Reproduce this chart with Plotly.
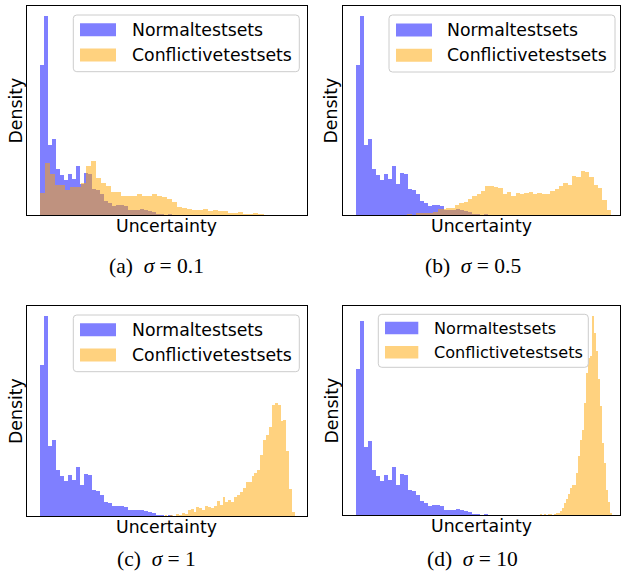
import numpy as np
import plotly.graph_objects as go

W, H = 621, 577

# ---------------- data (density, arbitrary units) ----------------
# Normal test sets: 50 equal-width bins over uncertainty span below
normal_span = (0.0, 0.8)
normal_density = [150, 199, 70, 76, 46, 40, 34.5, 41, 36, 49,
                  31, 42, 41, 26, 25, 21, 14, 12.5, 9.5, 10,
                  10, 9, 5.5, 5.5, 5.5, 6, 5, 4.3, 2.7, 1.3,
                  1.3, 0, 1.3, 0, 0, 0.3, 0, 0, 0.3, 0,
                  0, 0, 0, 0, 0, 0, 0, 0, 0, 0]

# Conflictive test sets for each sigma
conf_span_01 = (0.0, 1.016)
conf_density_01 = [21.7, 52, 41, 30, 30, 25, 28, 28, 31.7, 49,
                   54, 37, 32, 29, 23, 23, 19, 19, 19, 21,
                   19, 19, 21, 19, 17.7, 15.7, 13.3, 7.7, 6.7, 5.7,
                   5, 5, 6, 4.3, 5, 4, 4, 2.3, 2, 3,
                   1.3, 1.3, 2, 1.3, 0.3, 0, 0, 0, 0, 0]

conf_span_05 = (0.1544, 1.021)
conf_density_05 = [0, 0, 0, 1, 0.5, 1.7, 2, 2, 2.3, 3.3,
                   5.7, 6.3, 7, 6.7, 10, 11.7, 13.3, 15.7, 19, 21,
                   24.3, 29, 29, 28, 27, 21.3, 23, 19, 22, 21.3,
                   22, 23, 21.3, 22, 21.3, 21.3, 24, 26, 29, 32,
                   30, 39, 38, 44, 43, 38, 30.3, 27, 15, 5]

conf_span_1 = (0.44, 1.02)
conf_density_1 = [0, 0, 0.5, 0, 0, 1.3, 0.5, 1.3, 0.5, 2.3,
                  1.3, 3.3, 2.3, 6.3, 7.3, 4.3, 9.3, 8.3, 6.3, 10.3,
                  9.3, 8.3, 10.3, 15.3, 11.3, 19.3, 14.3, 16.3, 14.3, 19.3,
                  21.3, 24.3, 28.3, 34.3, 34.3, 40.3, 42.3, 45.3, 60.3, 75.3,
                  80.3, 88.3, 110.3, 112.3, 110.3, 94.7, 96, 64.3, 26.7, 4.3]

conf_span_10 = (0.625, 1.025)
conf_density_10 = [0, 0, 0, 0, 0, 0, 0, 0, 0, 0,
                   0, 0, 0, 0, 0.8, 0, 0.8, 0, 0.8, 0.8,
                   0, 0.8, 1.8, 2.4, 4.1, 6.9, 12.1, 16.2, 21.7, 27.5,
                   30.9, 30.9, 43, 60.1, 77.3, 87.6, 115.2, 146.1, 161.6, 163.2,
                   204.4, 187.3, 168.4, 139.2, 111.7, 73.9, 53.3, 25.8, 13.7, 2.4]

sigma_labels = ["0.1", "0.5", "1", "10"]
panel_letters = ["a", "b", "c", "d"]
legend_labels = ["Normaltestsets", "Conflictivetestsets"]

# ---------------- layout helpers ----------------
def px(x):
    return x / W

def py(y):
    return 1 - y / H

def bins(span, n):
    lo, hi = span
    w = (hi - lo) / n
    return lo + w * (np.arange(n) + 0.5), w

BLUE = "rgba(0,0,255,0.5)"
ORANGE = "rgba(255,165,0,0.5)"
FONT = "DejaVu Sans"
SERIF = "Liberation Serif"

panels = [
    dict(conf=conf_density_01, span=conf_span_01, box=(27, 6, 307, 215), xr=(-0.052, 1.068),
         leg=dict(box=(73.3, 15, 299.3, 71.7), patch=(80, 116), rows=(29.7, 55.0), tx=130, fs=17.3, ph=13),
         dens_x=16, cap=(156.5, 265.5)),
    dict(conf=conf_density_05, span=conf_span_05, box=(343, 6, 620, 215), xr=(-0.0508, 1.0572),
         leg=dict(box=(389, 15, 615, 72), patch=(396, 432), rows=(30.0, 55.3), tx=445, fs=17.3, ph=13),
         dens_x=331, cap=(473.3, 265.5)),
    dict(conf=conf_density_1, span=conf_span_1, box=(27, 306, 307, 516), xr=(-0.052, 1.068),
         leg=dict(box=(73.3, 315, 299.3, 371.7), patch=(80, 116), rows=(329.7, 355.0), tx=130, fs=17.3, ph=13),
         dens_x=16, cap=(156, 559)),
    dict(conf=conf_density_10, span=conf_span_10, box=(343, 306, 620, 515), xr=(-0.0508, 1.0572),
         leg=dict(box=(378.3, 314.3, 588.3, 367.3), patch=(385, 418.3), rows=(328.0, 352.2), tx=431.7, fs=16.1, ph=12.5),
         dens_x=331, cap=(472.5, 559)),
]

fig = go.Figure()
shapes = []
annotations = []

for i, p in enumerate(panels):
    s = "" if i == 0 else str(i + 1)
    xa, ya = "x" + s, "y" + s
    bx, bw = bins(normal_span, len(normal_density))
    ox, ow = bins(p["span"], len(p["conf"]))
    fig.add_trace(go.Bar(x=bx, y=normal_density, width=bw, name=legend_labels[0],
                         marker=dict(color=BLUE, line=dict(width=0)),
                         xaxis=xa, yaxis=ya, showlegend=False, hoverinfo="skip"))
    fig.add_trace(go.Bar(x=ox, y=p["conf"], width=ow, name=legend_labels[1],
                         marker=dict(color=ORANGE, line=dict(width=0)),
                         xaxis=xa, yaxis=ya, showlegend=False, hoverinfo="skip"))
    x0, y0, x1, y1 = p["box"]
    ymax = 1.05 * max(max(normal_density), max(p["conf"]))
    axis_common = dict(showticklabels=False, ticks="", showgrid=False, zeroline=False,
                       showline=True, mirror=True, linecolor="black", linewidth=1.2, fixedrange=True)
    fig.update_layout(**{
        "xaxis" + s: dict(domain=[px(x0), px(x1)], range=list(p["xr"]), anchor=ya, **axis_common),
        "yaxis" + s: dict(domain=[py(y1), py(y0)], range=[0, ymax], anchor=xa, **axis_common),
    })
    # axis titles
    annotations.append(dict(text="Uncertainty", x=px((x0 + x1) / 2), y=py(y1 + 11),
                            xref="paper", yref="paper", showarrow=False, xanchor="center", yanchor="middle",
                            font=dict(family=FONT, size=17.3, color="black")))
    annotations.append(dict(text="Density", x=px(p["dens_x"]), y=py((y0 + y1) / 2), textangle=-90,
                            xref="paper", yref="paper", showarrow=False, xanchor="center", yanchor="middle",
                            font=dict(family=FONT, size=17.3, color="black")))
    # caption
    cx, cy = p["cap"]
    annotations.append(dict(text="(%s)\u00a0\u00a0<i>σ</i> = %s" % (panel_letters[i], sigma_labels[i]),
                            x=px(cx), y=py(cy), xref="paper", yref="paper", showarrow=False,
                            xanchor="center", yanchor="middle",
                            font=dict(family=SERIF, size=21.5, color="black")))
    # legend
    L = p["leg"]
    lx0, ly0, lx1, ly1 = L["box"]
    r = 3.5
    path = ("M {a},{b} L {c},{b} Q {d},{b} {d},{e} L {d},{f} Q {d},{g} {c},{g} "
            "L {a},{g} Q {h},{g} {h},{f} L {h},{e} Q {h},{b} {a},{b} Z").format(
        a=px(lx0 + r), b=py(ly0), c=px(lx1 - r), d=px(lx1), e=py(ly0 + r), f=py(ly1 - r),
        g=py(ly1), h=px(lx0))
    shapes.append(dict(type="path", path=path, xref="paper", yref="paper",
                       fillcolor="rgba(255,255,255,0.8)", line=dict(color="#cccccc", width=1), layer="above"))
    for yc, col, lab in zip(L["rows"], [BLUE, ORANGE], legend_labels):
        shapes.append(dict(type="rect", xref="paper", yref="paper",
                           x0=px(L["patch"][0]), x1=px(L["patch"][1]),
                           y0=py(yc + L["ph"] / 2), y1=py(yc - L["ph"] / 2),
                           fillcolor=col, line=dict(width=0), layer="above"))
        annotations.append(dict(text=lab, x=px(L["tx"]), y=py(yc), xref="paper", yref="paper",
                                showarrow=False, xanchor="left", yanchor="middle",
                                font=dict(family=FONT, size=L["fs"], color="black")))

fig.update_layout(width=W, height=H, margin=dict(l=0, r=0, t=0, b=0),
                  paper_bgcolor="white", plot_bgcolor="white",
                  barmode="overlay", bargap=0, showlegend=False,
                  shapes=shapes, annotations=annotations)

fig.write_html("out.html")
